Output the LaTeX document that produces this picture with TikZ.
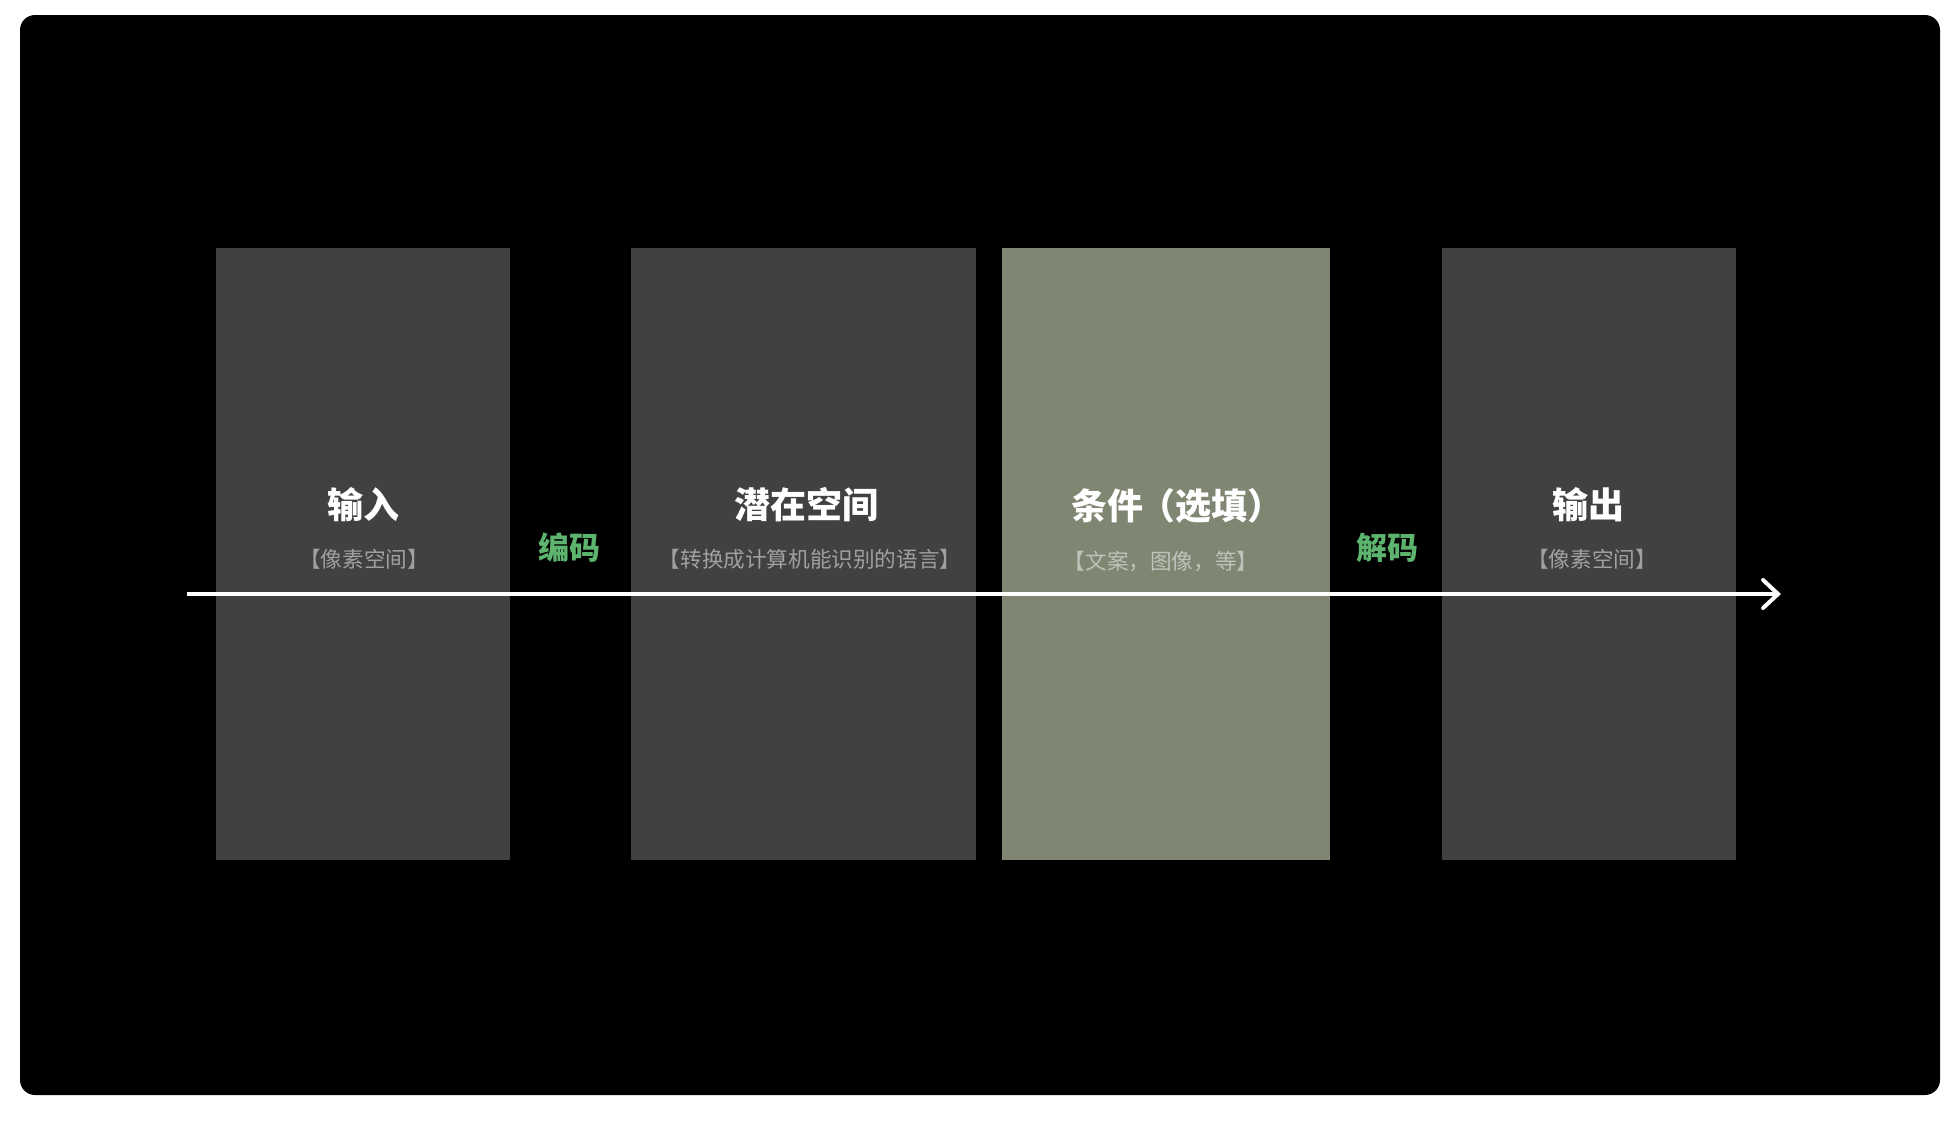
\documentclass[tikz,border=0pt]{standalone}
\usepackage{fontspec}
\setmainfont{Noto Sans CJK SC}
\usetikzlibrary{arrows.meta}

\definecolor{panelgray}{HTML}{414141}
\definecolor{panelgreen}{HTML}{7F8672}
\definecolor{stepgreen}{HTML}{5CB46E}

\tikzset{
  panel/.style={draw=none,minimum height=306pt,inner sep=0pt},
  title/.style={text=white,font=\fontsize{18}{18}\selectfont\bfseries,inner sep=0pt},
  subtitle/.style={text=white,text opacity=.5,font=\fontsize{10.8}{10.8}\selectfont,inner sep=0pt},
  steplabel/.style={text=stepgreen,font=\fontsize{15.5}{15.5}\selectfont\bfseries,inner sep=0pt}
}

\begin{document}
\begin{tikzpicture}[x=.5pt,y=-.5pt]
          \fill[white] (0,0) rectangle (1960,1120);
          \fill[black,rounded corners=7.5pt] (20,15) rectangle (1940,1095);
          \node[panel,fill=panelgray,minimum width=147pt]   (input)  at (363,554)    {};   % pixel space
          \node[panel,fill=panelgray,minimum width=172.5pt] (latent) at (803.5,554)  {};   % latent space
          \node[panel,fill=panelgreen,minimum width=164pt]  (cond)   at (1166,554)   {};   % condition
          \node[panel,fill=panelgray,minimum width=147pt]   (output) at (1589,554)   {};   % pixel space
          \node[title] (inputT)  at (363,505)  {输入};
          \node[title] (latentT) at (806,505)  {潜在空间};
          \node[title] (condT)   at (1177,506) {条件\kern-2pt（选填）};
          \node[title] (outputT) at (1588,505) {输出};
          \node[subtitle] (inputS)  at (364,559)  {【像素空间】};
          \node[subtitle] (latentS) at (810,559)  {【转换成计算机能识别的语言】};
          \node[subtitle] (condS)   at (1161,561) {【文案，图像，等】};
          \node[subtitle] (outputS) at (1592,559) {【像素空间】};
          \node[steplabel] (enc) at (569,548)  {编码};
          \node[steplabel] (dec) at (1387,548) {解码};
          \coordinate (start) at (187,594);
          \coordinate (end)   at (1781,594);
          \draw[white,line width=2pt,-{Straight Barb[length=7.5pt,width=14pt,line cap=round]}] (start) -- (end);
        \end{tikzpicture}
\end{document}
